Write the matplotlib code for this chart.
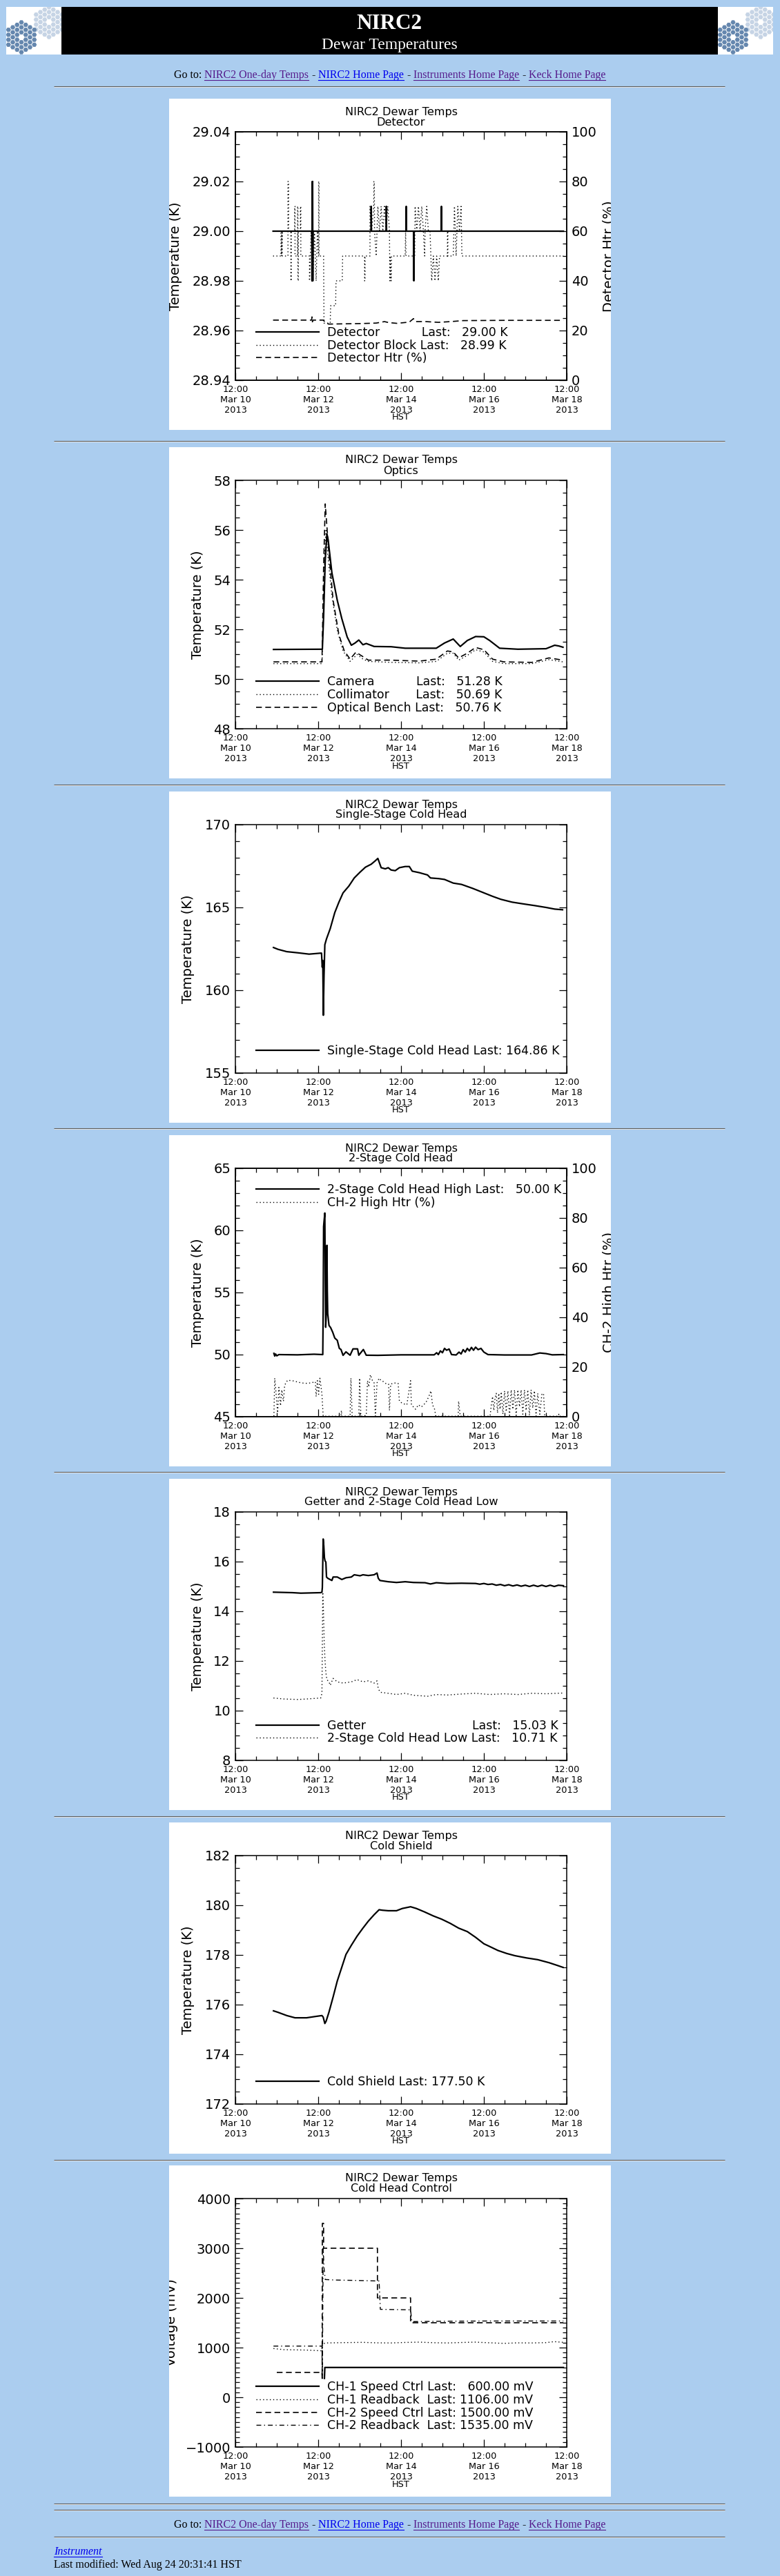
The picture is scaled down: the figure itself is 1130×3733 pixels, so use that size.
import matplotlib
matplotlib.use("Agg")
import numpy as np
import matplotlib.pyplot as plt
from matplotlib.patches import Rectangle, RegularPolygon
from matplotlib.ticker import MultipleLocator, FormatStrFormatter
from matplotlib.textpath import TextToPath
from matplotlib.font_manager import FontProperties

W, H = 1130, 3733
PAGE_BG = "#abcdef"
LINK = "#0000ee"
VISITED = "#551a8b"

# time axis: days after 12:00 Mar 10 2013 HST
DAY_TICKS = [0, 2, 4, 6, 8]
DAY_LABELS = ["12:00\nMar 10\n2013", "12:00\nMar 12\n2013", "12:00\nMar 14\n2013",
              "12:00\nMar 16\n2013", "12:00\nMar 18\n2013"]

# ---- Detector ----
DETECTOR = [(0.91, 29.00), (1.845, 29.00), (1.85, 28.98), (1.855, 29.02), (1.86, 28.98),
            (1.865, 29.02), (1.87, 28.98), (1.875, 29.00), (3.275, 29.00), (3.28, 29.01),
            (3.285, 29.00), (3.64, 29.00), (3.645, 29.01), (3.65, 29.00), (4.12, 29.00),
            (4.125, 29.01), (4.13, 29.00), (4.305, 29.00), (4.31, 28.98), (4.315, 29.00),
            (4.97, 29.00), (4.975, 29.01), (4.98, 29.00), (7.92, 29.00)]
DET_BLOCK = [(0.91, 28.99), (1.10, 28.99), (1.10, 29.00), (1.115, 29.00), (1.115, 28.99),
             (1.13, 29.00), (1.13, 28.99), (1.27, 28.99), (1.27, 29.02), (1.285, 29.02),
             (1.285, 29.00), (1.34, 29.00), (1.34, 28.98), (1.35, 28.98), (1.35, 29.00),
             (1.43, 29.00), (1.43, 29.01), (1.44, 29.01), (1.44, 28.99), (1.50, 28.99),
             (1.50, 29.01), (1.51, 29.01), (1.51, 28.98), (1.52, 28.98), (1.52, 29.00),
             (1.57, 29.00), (1.57, 29.01), (1.58, 29.01), (1.58, 28.99), (1.79, 28.99),
             (1.79, 28.98), (1.83, 29.00), (1.87, 28.98), (1.91, 29.00), (1.95, 28.98),
             (1.98, 29.00), (2.01, 28.99), (2.01, 29.02), (2.02, 29.02), (2.02, 28.99),
             (2.13, 28.99), (2.14, 28.963), (2.29, 28.963), (2.30, 28.97), (2.42, 28.97),
             (2.43, 28.98), (2.58, 28.98), (2.59, 28.99), (3.12, 28.99), (3.12, 28.98),
             (3.13, 28.98), (3.13, 28.99), (3.25, 28.99), (3.25, 29.01), (3.29, 29.00),
             (3.34, 29.01), (3.345, 29.02), (3.355, 29.02), (3.36, 29.00), (3.40, 28.99),
             (3.44, 29.01), (3.48, 29.00), (3.52, 29.01), (3.56, 29.00), (3.60, 29.01),
             (3.64, 29.00), (3.68, 29.01), (3.72, 29.00), (3.73, 28.98), (3.74, 28.99),
             (3.76, 28.98), (3.77, 28.99), (4.10, 28.99), (4.11, 29.00), (4.12, 28.99),
             (4.33, 28.99), (4.34, 29.01), (4.38, 29.00), (4.42, 29.01), (4.46, 29.00),
             (4.50, 29.01), (4.54, 29.00), (4.57, 28.99), (4.58, 29.00), (4.62, 29.01),
             (4.66, 29.00), (4.70, 29.00), (4.72, 28.99), (4.74, 28.98), (4.78, 28.99),
             (4.82, 28.98), (4.86, 28.99), (4.90, 28.98), (4.93, 28.99), (5.12, 28.99),
             (5.12, 29.00), (5.13, 29.00), (5.13, 28.99), (5.26, 28.99), (5.29, 29.01),
             (5.33, 28.99), (5.37, 29.01), (5.41, 29.00), (5.45, 29.01), (5.47, 28.99),
             (7.92, 28.99)]
DET_HTR = [(0.91, 24.2), (1.84, 24.2), (1.85, 25.5), (1.86, 23.5), (1.87, 24.2), (2.12, 24.2),
           (2.18, 23.2), (2.25, 22.6), (3.0, 22.8), (3.4, 23.0), (3.6, 23.6), (3.7, 23.2),
           (3.9, 22.9), (4.2, 23.4), (4.3, 24.8), (4.35, 23.6), (4.6, 23.6), (4.9, 23.3),
           (5.2, 23.6), (5.5, 24.0), (6.5, 24.1), (7.92, 24.1)]

# ---- Optics ----
CAMERA = [(0.92, 51.19), (2.10, 51.2), (2.13, 52.5), (2.17, 54.8), (2.21, 55.85), (2.24, 55.6),
          (2.33, 54.28), (2.46, 53.17), (2.57, 52.43), (2.70, 51.69), (2.80, 51.36),
          (2.89, 51.45), (2.98, 51.57), (3.08, 51.38), (3.16, 51.43), (3.35, 51.31),
          (3.76, 51.30), (4.10, 51.24), (4.85, 51.24), (5.05, 51.45), (5.26, 51.61),
          (5.43, 51.31), (5.60, 51.55), (5.80, 51.71), (6.00, 51.70), (6.14, 51.55),
          (6.38, 51.24), (6.82, 51.20), (7.50, 51.22), (7.71, 51.36), (7.81, 51.33),
          (7.91, 51.28)]
COLLIMATOR = [(0.92, 50.62), (2.09, 50.62), (2.10, 51.0), (2.13, 53.5), (2.16, 55.2),
              (2.19, 56.04), (2.23, 55.0), (2.33, 53.35), (2.46, 51.96), (2.60, 51.13),
              (2.77, 50.71), (2.94, 50.99), (3.08, 50.80), (3.21, 50.71), (3.76, 50.67),
              (4.44, 50.65), (4.85, 50.71), (5.12, 51.04), (5.26, 51.04), (5.39, 50.76),
              (5.60, 50.95), (5.80, 51.18), (6.00, 51.09), (6.21, 50.71), (6.48, 50.62),
              (7.16, 50.62), (7.57, 50.78), (7.91, 50.69)]
OPT_BENCH = [(0.92, 50.69), (2.09, 50.69), (2.10, 51.5), (2.13, 54.5), (2.17, 57.05),
             (2.26, 55.0), (2.36, 53.17), (2.50, 51.78), (2.63, 51.13), (2.77, 50.80),
             (2.91, 51.08), (3.08, 50.90), (3.21, 50.76), (3.76, 50.76), (4.44, 50.72),
             (4.85, 50.80), (5.12, 51.13), (5.26, 51.09), (5.39, 50.85), (5.60, 51.04),
             (5.80, 51.27), (6.00, 51.18), (6.21, 50.80), (6.48, 50.69), (7.16, 50.67),
             (7.57, 50.85), (7.91, 50.76)]

# ---- Single-stage cold head ----
SINGLE_STAGE = [(0.92, 162.58), (1.03, 162.47), (1.24, 162.33), (1.51, 162.26), (1.78, 162.18),
                (2.06, 162.24), (2.08, 162.24), (2.097, 161.4), (2.11, 161.8), (2.124, 158.49),
                (2.14, 160.87), (2.16, 162.75), (2.20, 163.1), (2.29, 163.72), (2.40, 164.69),
                (2.50, 165.32), (2.60, 165.88), (2.74, 166.29), (2.87, 166.78), (3.01, 167.13),
                (3.14, 167.43), (3.28, 167.61), (3.38, 167.82), (3.44, 167.96), (3.52, 167.40),
                (3.62, 167.33), (3.69, 167.40), (3.76, 167.26), (3.86, 167.22), (3.96, 167.40),
                (4.10, 167.47), (4.20, 167.47), (4.27, 167.19), (4.44, 167.10), (4.64, 166.96),
                (4.71, 166.78), (4.91, 166.74), (5.05, 166.69), (5.26, 166.47), (5.46, 166.39),
                (5.73, 166.15), (6.00, 165.88), (6.21, 165.67), (6.41, 165.49), (6.68, 165.32),
                (6.96, 165.21), (7.23, 165.11), (7.50, 165.00), (7.71, 164.90), (7.90, 164.86)]

# ---- 2-stage cold head ----
CH2_HIGH = [(0.93, 50.1), (0.95, 49.88), (0.97, 50.05), (1.00, 49.9), (1.05, 50.0), (1.50, 49.98),
            (1.90, 50.03), (2.11, 50.0), (2.12, 53.6), (2.13, 60.3), (2.14, 60.7), (2.16, 61.4),
            (2.17, 56.0), (2.18, 52.2), (2.20, 53.6), (2.21, 58.8), (2.22, 55.1), (2.23, 53.3),
            (2.26, 52.35), (2.30, 52.17), (2.35, 51.8), (2.40, 51.33), (2.46, 51.15),
            (2.51, 50.5), (2.55, 50.41), (2.60, 49.94), (2.67, 50.22), (2.77, 49.95),
            (2.84, 50.46), (2.95, 50.46), (2.98, 49.95), (3.09, 50.41), (3.16, 49.95),
            (3.44, 49.94), (4.00, 49.98), (4.80, 49.98), (4.86, 50.15), (4.90, 50.0),
            (4.95, 50.3), (5.00, 50.15), (5.05, 50.5), (5.10, 50.35), (5.16, 50.45),
            (5.22, 50.0), (5.33, 49.97), (5.40, 50.2), (5.45, 50.05), (5.50, 50.4),
            (5.55, 50.2), (5.60, 50.5), (5.65, 50.3), (5.70, 50.58), (5.75, 50.35),
            (5.80, 50.6), (5.86, 50.4), (5.93, 50.5), (6.00, 50.2), (6.10, 50.0),
            (6.50, 49.97), (7.15, 49.97), (7.35, 50.13), (7.50, 50.08), (7.65, 49.98),
            (7.92, 50.0)]
CH2_HTR = [(0.93, 0.2), (0.95, 15.5), (0.97, 11.8), (1.02, 1.6), (1.05, 11.8), (1.09, 4.4),
           (1.12, 10.8), (1.16, 6.2), (1.19, 12.7), (1.26, 14.7), (1.40, 14.4), (1.54, 13.8),
           (1.68, 13.4), (1.83, 13.6), (1.93, 14.1), (1.95, 8.1), (1.98, 14.5), (2.01, 9.0),
           (2.04, 15.5), (2.06, 13.1), (2.09, 9.0), (2.12, 0.2), (2.55, 0.2), (2.56, 2.5),
           (2.57, 0.2), (2.77, 0.2), (2.79, 15.5), (2.82, 0.2), (2.98, 0.2), (3.00, 15.5),
           (3.03, 0.2), (3.16, 0.5), (3.19, 14.5), (3.22, 12.0), (3.26, 16.9), (3.31, 14.5),
           (3.35, 13.6), (3.38, 0.2), (3.42, 13.6), (3.47, 15.5), (3.52, 14.5), (3.58, 14.1),
           (3.65, 13.1), (3.70, 13.1), (3.72, 2.5), (3.75, 13.1), (3.83, 13.6), (3.93, 13.4),
           (3.96, 6.2), (4.04, 5.3), (4.14, 4.8), (4.23, 14.5), (4.25, 4.8), (4.35, 3.0),
           (4.42, 4.8), (4.49, 3.9), (4.60, 5.7), (4.67, 8.1), (4.72, 10.4), (4.76, 4.8),
           (4.81, 3.0), (4.84, 0.2), (5.38, 0.2), (5.39, 6.2), (5.43, 0.2), (6.15, 0.2),
           (6.18, 4.8), (6.21, 8.1), (6.24, 2.5), (6.27, 7.5), (6.30, 9.4), (6.33, 1.5),
           (6.36, 9.4), (6.39, 3.0), (6.42, 10.0), (6.46, 1.0), (6.50, 10.4), (6.54, 2.0),
           (6.58, 10.4), (6.62, 0.5), (6.66, 10.8), (6.70, 3.0), (6.74, 10.8), (6.78, 0.5),
           (6.82, 10.8), (6.86, 4.0), (6.90, 10.8), (6.94, 1.0), (6.98, 10.8), (7.02, 2.5),
           (7.06, 10.8), (7.10, 0.5), (7.14, 10.8), (7.18, 3.5), (7.22, 10.4), (7.26, 0.2),
           (7.30, 9.4), (7.35, 1.0), (7.40, 9.0), (7.44, 9.4), (7.47, 0.2), (7.80, 0.2),
           (7.81, 1.0), (7.82, 0.2), (7.92, 0.2)]

# ---- Getter / 2-stage low ----
GETTER = [(0.92, 14.77), (1.38, 14.75), (1.58, 14.73), (2.06, 14.75), (2.09, 14.77),
          (2.10, 14.96), (2.12, 16.91), (2.135, 16.63), (2.15, 16.16), (2.165, 16.03),
          (2.185, 15.98), (2.20, 15.38), (2.23, 15.33), (2.33, 15.24), (2.36, 15.38),
          (2.46, 15.38), (2.57, 15.28), (2.67, 15.35), (2.80, 15.38), (2.87, 15.47),
          (3.01, 15.43), (3.08, 15.47), (3.21, 15.44), (3.35, 15.47), (3.42, 15.54),
          (3.45, 15.33), (3.49, 15.24), (3.69, 15.19), (3.89, 15.16), (4.10, 15.19),
          (4.30, 15.16), (4.58, 15.15), (4.71, 15.10), (4.85, 15.15), (5.12, 15.12),
          (5.46, 15.13), (5.80, 15.12), (5.90, 15.09), (6.00, 15.12), (6.10, 15.08),
          (6.20, 15.10), (6.30, 15.05), (6.40, 15.08), (6.50, 15.03), (6.60, 15.07),
          (6.70, 15.02), (6.80, 15.06), (6.90, 15.01), (7.00, 15.05), (7.10, 15.00),
          (7.20, 15.05), (7.30, 15.00), (7.40, 15.05), (7.50, 15.00), (7.60, 15.05),
          (7.70, 15.00), (7.80, 15.05), (7.92, 15.03)]
CH2_LOW = [(0.92, 10.51), (1.17, 10.47), (1.51, 10.45), (1.72, 10.47), (2.06, 10.51),
           (2.09, 10.70), (2.11, 14.77), (2.125, 14.13), (2.145, 12.74), (2.165, 12.0),
           (2.185, 11.53), (2.21, 11.25), (2.26, 11.16), (2.29, 11.02), (2.36, 11.30),
           (2.46, 11.16), (2.60, 11.11), (2.80, 11.16), (2.94, 11.25), (3.08, 11.16),
           (3.21, 11.20), (3.35, 11.11), (3.42, 11.20), (3.45, 10.88), (3.50, 10.74),
           (3.69, 10.70), (3.89, 10.65), (4.10, 10.70), (4.30, 10.62), (4.64, 10.58),
           (4.85, 10.65), (5.12, 10.63), (5.46, 10.67), (5.80, 10.70), (6.14, 10.65),
           (6.48, 10.68), (6.82, 10.65), (7.16, 10.70), (7.50, 10.68), (7.92, 10.71)]

# ---- Cold shield ----
COLD_SHIELD = [(0.92, 175.75), (1.03, 175.69), (1.24, 175.56), (1.44, 175.47), (1.72, 175.47),
               (1.92, 175.52), (2.09, 175.56), (2.12, 175.50), (2.16, 175.24), (2.19, 175.33),
               (2.26, 175.70), (2.36, 176.31), (2.46, 176.95), (2.57, 177.51), (2.67, 178.02),
               (2.80, 178.39), (2.94, 178.76), (3.08, 179.08), (3.21, 179.36), (3.35, 179.62),
               (3.47, 179.82), (3.55, 179.80), (3.69, 179.78), (3.89, 179.78), (4.03, 179.87),
               (4.23, 179.94), (4.37, 179.87), (4.57, 179.73), (4.78, 179.57), (4.98, 179.44),
               (5.19, 179.27), (5.39, 179.08), (5.60, 178.94), (5.80, 178.71), (6.00, 178.45),
               (6.14, 178.34), (6.34, 178.18), (6.55, 178.06), (6.75, 177.97), (7.03, 177.88),
               (7.30, 177.81), (7.57, 177.69), (7.77, 177.58), (7.91, 177.50)]

# ---- Cold head control (mV) ----
CH1_SPEED = [(2.15, 380), (2.16, 600), (7.92, 600)]
CH1_READ = [(0.92, 981), (1.17, 958), (1.72, 950), (2.09, 935), (2.10, 1075), (2.19, 1093),
            (2.60, 1100), (3.08, 1106), (3.40, 1096), (3.76, 1093), (4.10, 1104), (4.44, 1110),
            (4.80, 1098), (5.12, 1093), (5.50, 1104), (5.80, 1110), (6.10, 1098), (6.48, 1085),
            (6.80, 1095), (7.16, 1093), (7.50, 1100), (7.70, 1120), (7.91, 1106)]
CH2_SPEED = [(1.0, 500), (2.09, 500), (2.095, 380), (2.10, 3500), (2.13, 3500), (2.13, 3000),
             (3.43, 3000), (3.43, 2000), (4.23, 2000), (4.23, 1500), (7.92, 1500)]
CH2_READ = [(0.92, 1030), (2.09, 1030), (2.10, 380), (2.12, 3000), (2.14, 2600), (2.17, 2370),
            (2.40, 2360), (3.00, 2350), (3.47, 2340), (3.50, 1770), (4.23, 1760), (4.26, 1523),
            (5.00, 1530), (6.00, 1535), (7.92, 1535)]

# page layout (pixels from top)
PANEL_TOPS = [143, 648, 1147, 1645, 2143, 2641, 3138]
YLAB_X = [255, 287, 273, 286, 287, 273, 248]
RULES = [125, 639, 1137, 1635, 2133, 2632, 3130, 3628, 3637, 3676]

SOLID = dict(color="black", lw=1.6)
DOTTED = dict(color="black", lw=1.0, linestyle=(0, (1, 2.5)))
DASHED = dict(color="black", lw=1.2, linestyle=(0, (5, 3)))
DASHDOT = dict(color="black", lw=1.0, linestyle=(0, (5, 3, 1, 3)))

plt.rcParams["font.family"] = ["DejaVu Sans"]

fig = plt.figure(figsize=(W / 100, H / 100), dpi=100)
fig.patch.set_facecolor(PAGE_BG)


def frac(x, y, w, h):
    return [x / W, 1 - (y + h) / H, w / W, h / H]


def xy(pairs):
    return [p[0] for p in pairs], [p[1] for p in pairs]


_ttp = TextToPath()
_leg_fp = FontProperties(family="DejaVu Sans", size=12.5)


def text_w(s):
    return _ttp.get_text_width_height_descent(s, _leg_fp, ismath=False)[0]


def pad_names(names):
    widest = max(text_w(n) for n in names)
    sp = text_w("a a") - text_w("aa")
    return [n + " " * int(round((widest - text_w(n)) / sp)) for n in names]


def last(v, width, unit):
    s = f"{v:{width}.2f}"
    n = len(s) - len(s.lstrip())
    return "Last: " + "  " * n + s.lstrip() + " " + unit


LEG = dict(loc="center left", frameon=False, borderpad=0, borderaxespad=0,
           handlelength=5.25, handletextpad=0.65, labelspacing=0.04, fontsize=12.5)

# ---- page decoration ----
page = fig.add_axes([0, 0, 1, 1])
page.set_xlim(0, W)
page.set_ylim(H, 0)
page.set_facecolor("none")
page.axis("off")
page.set_zorder(0)

page.add_patch(Rectangle((89, 10), 951, 69, facecolor="black", edgecolor="none"))


def draw_logo(x0):
    box = Rectangle((x0, 10), 80, 69, facecolor="white", edgecolor="none")
    page.add_patch(box)
    R = 7.2 / np.sqrt(3)
    for cx, cy, col in [(x0 + 62, 32, "#c6d4e5"), (x0 + 22, 54, "#6587ae")]:
        for q in range(-3, 4):
            for r in range(-3, 4):
                d = max(abs(q), abs(r), abs(q + r))
                if d == 0 or d > 3:
                    continue
                hx = cx + 1.5 * R * q
                hy = cy + np.sqrt(3) * R * (r + q / 2)
                hexa = RegularPolygon((hx, hy), 6, radius=R * 0.86, orientation=np.pi / 6,
                                      facecolor=col, edgecolor="none")
                page.add_patch(hexa)
                hexa.set_clip_path(box)


draw_logo(9)
draw_logo(1040)
page.text(564, 42, "NIRC2", color="white", fontsize=22.5, fontweight="bold",
          family="Liberation Serif", ha="center", va="baseline")
page.text(564, 71, "Dewar Temperatures", color="white", fontsize=17,
          family="Liberation Serif", ha="center", va="baseline")

for y in RULES:
    page.plot([78, 1050], [y, y], color="#5c5c5c", lw=0.8, solid_capstyle="butt")
    page.plot([78, 1050], [y + 1.2, y + 1.2], color="#e4e4e4", lw=0.7, solid_capstyle="butt")

renderer = fig.canvas.get_renderer()


def link_line(y, parts, cx=None, x0=None, size=11.5):
    texts = []
    for s, col, under, style in parts:
        t = page.text(0, y, s, color=col, fontsize=size, family="Liberation Serif",
                      style=style, ha="left", va="baseline")
        texts.append((t, col, under))
    widths = [t.get_window_extent(renderer).width for t, _, _ in texts]
    gap = 4.2
    total = sum(widths) + gap * (len(widths) - 1)
    x = cx - total / 2 if cx is not None else x0
    for (t, col, under), w in zip(texts, widths):
        t.set_x(x)
        if under:
            page.plot([x, x + w], [y + 2.8, y + 2.8], color=col, lw=0.8)
        x += w + gap


GOTO = [("Go to:", "black", False, "normal"), ("NIRC2 One-day Temps", VISITED, True, "normal"),
        ("-", "black", False, "normal"), ("NIRC2 Home Page", LINK, True, "normal"),
        ("-", "black", False, "normal"), ("Instruments Home Page", VISITED, True, "normal"),
        ("-", "black", False, "normal"), ("Keck Home Page", VISITED, True, "normal")]
link_line(113, GOTO, cx=564.5)
link_line(3663, GOTO, cx=564.5)
link_line(3702, [("Instrument", LINK, True, "italic")], x0=78)
link_line(3721, [("Last modified: Wed Aug 24 20:31:41 HST", "black", False, "normal")], x0=78)


# ---- panels ----
def panel(i, subtitle, ylim, major, minor, ylabel="Temperature (K)"):
    top = PANEL_TOPS[i]
    bg = fig.add_axes(frac(245, top, 640, 480), facecolor="white")
    bg.set_xticks([])
    bg.set_yticks([])
    for s in bg.spines.values():
        s.set_visible(False)
    bg.set_zorder(1)

    ax = fig.add_axes(frac(341, top + 48, 480, 360), facecolor="white")
    ax.set_zorder(2)
    ax.set_xlim(0, 8)
    ax.set_ylim(*ylim)
    ax.set_xticks(DAY_TICKS, DAY_LABELS)
    ax.xaxis.set_minor_locator(MultipleLocator(0.5))
    ax.yaxis.set_major_locator(MultipleLocator(major))
    ax.yaxis.set_minor_locator(MultipleLocator(minor))
    ax.tick_params(which="both", direction="in", top=True, right=True, width=0.9)
    ax.tick_params(which="major", length=7.9)
    ax.tick_params(which="minor", length=4.3)
    ax.tick_params(axis="x", labelsize=9.3, pad=5)
    ax.tick_params(axis="y", labelsize=14, pad=5)
    for s in ax.spines.values():
        s.set_linewidth(1.1)
    ax.text(0.5, 1 + 29 / 360, "NIRC2 Dewar Temps", transform=ax.transAxes,
            ha="center", va="center", fontsize=11.6)
    ax.text(0.5, 1 + 14 / 360, subtitle, transform=ax.transAxes,
            ha="center", va="center", fontsize=11.6)
    ax.text(0.5, -54 / 360, "HST", transform=ax.transAxes, ha="center", va="center",
            fontsize=9.3)
    ax.set_ylabel(ylabel, fontsize=14, va="center")
    ax.yaxis.set_label_coords((YLAB_X[i] - 341) / 480, 0.5)
    ax.yaxis.label.set_clip_box(bg.bbox)
    return bg, ax


def right_axis(ax, bg, label):
    ax.tick_params(which="both", right=False)
    ax2 = ax.twinx()
    ax2.set_zorder(3)
    ax2.set_ylim(0, 100)
    ax2.yaxis.set_major_locator(MultipleLocator(20))
    ax2.yaxis.set_minor_locator(MultipleLocator(5))
    ax2.tick_params(which="both", direction="in", width=0.9)
    ax2.tick_params(which="major", length=7.9, labelsize=14, pad=5)
    ax2.tick_params(which="minor", length=4.3)
    for s in ax2.spines.values():
        s.set_linewidth(1.1)
    ax2.set_ylabel(label, fontsize=14, va="center")
    ax2.yaxis.set_label_coords((882 - 341) / 480, 0.5)
    ax2.yaxis.label.set_clip_box(bg.bbox)
    return ax2


# 1 Detector
bg, ax = panel(0, "Detector", (28.94, 29.04), 0.02, 0.005)
ax.yaxis.set_major_formatter(FormatStrFormatter("%.2f"))
ax2 = right_axis(ax, bg, "Detector Htr (%)")
l1, = ax.plot(*xy(DETECTOR), **SOLID)
l2, = ax.plot(*xy(DET_BLOCK), **DOTTED)
l3, = ax2.plot(*xy(DET_HTR), **DASHED)
n = pad_names(["Detector", "Detector Block"])
ax2.legend([l1, l2, l3], [f"{n[0]} {last(29.00, 6, 'K')}", f"{n[1]} {last(28.99, 6, 'K')}",
                          "Detector Htr (%)"], bbox_to_anchor=(0.063, 0.140), **LEG)

# 2 Optics
bg, ax = panel(1, "Optics", (48, 58), 2, 0.5)
l1, = ax.plot(*xy(CAMERA), **SOLID)
l2, = ax.plot(*xy(COLLIMATOR), **DOTTED)
l3, = ax.plot(*xy(OPT_BENCH), **DASHED)
n = pad_names(["Camera", "Collimator", "Optical Bench"])
ax.legend([l1, l2, l3], [f"{n[0]} {last(51.28, 6, 'K')}", f"{n[1]} {last(50.69, 6, 'K')}",
                         f"{n[2]} {last(50.76, 6, 'K')}"], bbox_to_anchor=(0.063, 0.136), **LEG)

# 3 Single-stage cold head
bg, ax = panel(2, "Single-Stage Cold Head", (155, 170), 5, 1)
l1, = ax.plot(*xy(SINGLE_STAGE), **SOLID)
ax.legend([l1], [f"Single-Stage Cold Head {last(164.86, 6, 'K')}"],
          bbox_to_anchor=(0.063, 0.088), **LEG)

# 4 2-stage cold head
bg, ax = panel(3, "2-Stage Cold Head", (45, 65), 5, 1)
ax2 = right_axis(ax, bg, "CH-2 High Htr (%)")
l1, = ax.plot(*xy(CH2_HIGH), **SOLID)
l2, = ax2.plot(*xy(CH2_HTR), **DOTTED)
ax2.legend([l1, l2], [f"2-Stage Cold Head High {last(50.00, 6, 'K')}", "CH-2 High Htr (%)"],
           bbox_to_anchor=(0.063, 0.887), **LEG)

# 5 Getter
bg, ax = panel(4, "Getter and 2-Stage Cold Head Low", (8, 18), 2, 0.5)
l1, = ax.plot(*xy(GETTER), **SOLID)
l2, = ax.plot(*xy(CH2_LOW), **DOTTED)
n = pad_names(["Getter", "2-Stage Cold Head Low"])
ax.legend([l1, l2], [f"{n[0]} {last(15.03, 6, 'K')}", f"{n[1]} {last(10.71, 6, 'K')}"],
          bbox_to_anchor=(0.063, 0.114), **LEG)

# 6 Cold shield
bg, ax = panel(5, "Cold Shield", (172, 182), 2, 0.5)
l1, = ax.plot(*xy(COLD_SHIELD), **SOLID)
ax.legend([l1], [f"Cold Shield {last(177.50, 6, 'K')}"], bbox_to_anchor=(0.063, 0.088), **LEG)

# 7 Cold head control
bg, ax = panel(6, "Cold Head Control", (-1000, 4000), 1000, 100, ylabel="Voltage (mV)")
l1, = ax.plot(*xy(CH1_SPEED), **SOLID)
l2, = ax.plot(*xy(CH1_READ), **DOTTED)
l3, = ax.plot(*xy(CH2_SPEED), **DASHED)
l4, = ax.plot(*xy(CH2_READ), **DASHDOT)
n = pad_names(["CH-1 Speed Ctrl", "CH-1 Readback", "CH-2 Speed Ctrl", "CH-2 Readback"])
ax.legend([l1, l2, l3, l4], [f"{n[0]} {last(600.00, 7, 'mV')}", f"{n[1]} {last(1106.00, 7, 'mV')}",
                             f"{n[2]} {last(1500.00, 7, 'mV')}", f"{n[3]} {last(1535.00, 7, 'mV')}"],
          bbox_to_anchor=(0.063, 0.163), **LEG)

fig.savefig("out.png", dpi=100, facecolor=PAGE_BG)
